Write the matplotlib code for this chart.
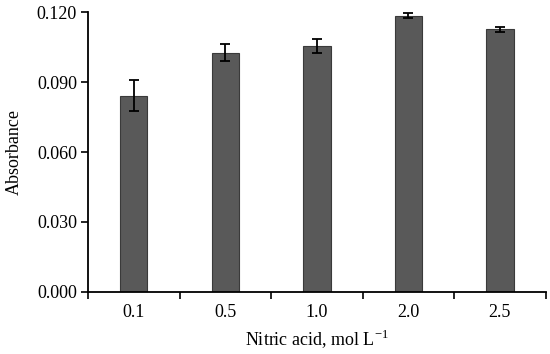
import matplotlib
matplotlib.use("Agg")
from matplotlib import pyplot as plt
import numpy as np

# Nitric acid concentration vs absorbance
concentrations = ['0.1', '0.5', '1.0', '2.0', '2.5']
absorbance = [0.0842, 0.1027, 0.1057, 0.1186, 0.1127]
errors = [0.0066, 0.0037, 0.0030, 0.0012, 0.0011]
y_ticks = [0.000, 0.030, 0.060, 0.090, 0.120]

plt.rcParams['font.family'] = ['Liberation Serif', 'DejaVu Serif']
plt.rcParams['mathtext.fontset'] = 'custom'
plt.rcParams['mathtext.rm'] = 'Liberation Serif'

fig = plt.figure(figsize=(5.5, 3.54), dpi=100)
ax = fig.add_axes([0.16, 0.176, 0.832, 0.789])

x = np.arange(len(concentrations))
ax.bar(x, absorbance, width=0.3, color='#595959', edgecolor='#3a3a3a', linewidth=0.8,
       yerr=errors, error_kw=dict(ecolor='black', elinewidth=1.3, capsize=3.5, capthick=1.3))

ax.set_xlim(-0.5, len(concentrations) - 0.5)
ax.set_ylim(0, 0.12)
ax.set_yticks(y_ticks)
ax.set_yticklabels(['%.3f' % v for v in y_ticks])

# Excel-style: category ticks between bars, labels centred under bars
ax.set_xticks(np.arange(len(concentrations) + 1) - 0.5)
ax.set_xticklabels([])
ax.set_xticks(x, minor=True)
ax.set_xticklabels(concentrations, minor=True)
ax.tick_params(axis='x', which='minor', length=0, pad=9, labelsize=13)
ax.tick_params(axis='x', which='major', length=5, width=1.2, direction='out')
ax.tick_params(axis='y', length=5, width=1.2, direction='out', labelsize=13, pad=3)

for side in ['top', 'right']:
    ax.spines[side].set_visible(False)
for side in ['left', 'bottom']:
    ax.spines[side].set_linewidth(1.3)

ax.set_ylabel('Absorbance', fontsize=13, labelpad=10)
ax.set_xlabel(r'Nitric acid, mol L$^{-1}$', fontsize=13, labelpad=4)

plt.savefig('out.png', dpi=100)
